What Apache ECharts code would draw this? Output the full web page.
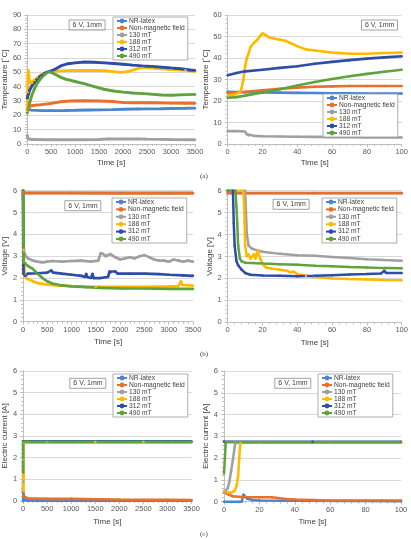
<!DOCTYPE html>
<html><head><meta charset="utf-8">
<script src="https://cdn.jsdelivr.net/npm/echarts@6/dist/echarts.min.js"></script>
<style>html,body{margin:0;padding:0;background:#fff}#c{width:411px;height:539px}</style>
</head><body><div id="c"></div>
<script>
// ---- series names & tick settings ----
const seriesNames = ['NR-latex', 'Non-magnetic field', '130 mT', '188 mT', '312 mT', '490 mT'];
const xTitle = 'Time [s]';
const yTitles = ['Temperature [˚C]', 'Temperature [˚C]', 'Voltage [V]', 'Voltage [V]', 'Electric current [A]', 'Electric current [A]'];
const boxLabel = '6 V, 1mm';
const captions = ['(a)', '(b)', '(c)'];
const xMaxLong = 3500, xStepLong = 500, xMaxShort = 100, xStepShort = 20;
const tempLongMax = 90, tempShortMax = 60, tempStep = 10, elecMax = 6, elecStep = 1;

// ---- (a) temperature, 0-3500 s ----
const tL_nr = [[0,24],[100,23.6],[300,23.3],[500,23.3],[800,23.4],[1000,23.5],[1300,23.7],[1500,23.8],[1800,24],[2000,24.2],[2300,24.4],[2500,24.5],[2800,24.6],[3000,24.8],[3300,24.9],[3500,25]];
const tL_nm = [[0,23.5],[30,25],[60,26.5],[150,27],[300,27.5],[500,28.3],[700,29.5],[900,30],[1200,30.2],[1500,30],[1800,29.6],[2000,29],[2300,28.8],[2600,28.8],[3000,28.5],[3300,28.4],[3500,28.4]];
const tL_130 = [[0,6],[8,5.9],[12,4],[40,3.4],[100,3.1],[500,3],[1000,3],[1500,3.1],[1700,3.6],[2000,3.5],[2300,3.6],[2500,3.4],[2800,3.2],[3000,3.1],[3500,3]];
const tL_188 = [[0,22.5],[8,24],[10,36],[14,46],[20,51.5],[30,48.5],[45,44],[60,42.5],[100,42.5],[150,44.5],[200,46],[300,48.5],[400,50],[500,50.5],[700,51],[1000,51.3],[1300,51.3],[1600,51.2],[1800,50.5],[1950,50],[2100,50.5],[2250,52],[2400,53.5],[2600,53],[3000,52],[3300,51.5],[3500,50.5]];
const tL_312 = [[0,32],[20,34.5],[50,37.5],[100,40.8],[200,45],[300,48],[400,50],[500,51],[600,52.5],[700,54.5],[850,56],[1000,56.6],[1200,57.2],[1400,57],[1600,56.6],[1800,56.2],[2000,55.6],[2200,55],[2400,54.5],[2600,54.1],[2800,53.6],[3000,53],[3200,52.5],[3400,51.6],[3500,51.3]];
const tL_490 = [[0,21.5],[20,24],[50,28.5],[100,34.5],[150,38.5],[200,42],[300,46.5],[400,49.5],[450,50.3],[500,50],[600,48.3],[700,46.5],[800,45.2],[1000,43.6],[1200,42],[1400,40],[1600,38.2],[1800,37],[2000,36.2],[2200,35.6],[2500,35],[2800,34.2],[3000,34],[3200,34.3],[3500,34.6]];

// ---- (a) temperature, 0-100 s ----
const tS_nr = [[0,24.3],[10,24.1],[20,24],[30,23.9],[40,23.8],[50,23.7],[60,23.6],[70,23.6],[80,23.5],[90,23.5],[100,23.5]];
const tS_nm = [[0,23.7],[10,24.3],[20,25],[30,25.7],[40,26.2],[50,26.6],[60,26.8],[70,27],[80,27],[90,27],[100,27]];
const tS_130 = [[0,6],[4,6],[8,5.9],[10,5.7],[11,4.5],[12,4],[15,3.8],[20,3.6],[30,3.5],[40,3.4],[50,3.3],[60,3.2],[70,3.2],[80,3.1],[90,3.1],[100,3]];
const tS_188 = [[0,22.5],[4,23],[7,24],[8,26],[9,30],[10,36],[11,40],[12,42],[13,45],[15,47],[17,48.5],[19,50.5],[20,51.5],[21,51.2],[22,50.5],[24,49.5],[27,49],[30,48.5],[33,48],[36,47],[40,45.5],[45,44],[50,43.5],[55,43],[60,42.5],[70,42],[80,42],[90,42.3],[100,42.5]];
const tS_312 = [[0,32],[5,33],[10,33.8],[20,34.5],[30,35.4],[40,36.2],[50,37.3],[60,38.2],[70,39],[80,39.7],[90,40.3],[100,40.8]];
const tS_490 = [[0,21.5],[5,21.8],[10,22.5],[20,24],[30,25.5],[40,27.2],[50,28.8],[60,30.2],[70,31.5],[80,32.6],[90,33.6],[100,34.5]];

// ---- (b) voltage, 0-3500 s ----
const vL_nr = [[0,5.9],[1000,5.9],[2000,5.9],[3000,5.9],[3500,5.9]];
const vL_nm = [[0,5.89],[1000,5.89],[2000,5.88],[3000,5.88],[3500,5.88]];
const vL_130 = [[0,6],[9,6],[12,3.5],[20,3.2],[60,3],[100,2.9],[200,2.8],[300,2.75],[400,2.72],[500,2.75],[600,2.78],[800,2.75],[1000,2.78],[1200,2.8],[1400,2.75],[1550,2.8],[1600,3.15],[1650,3.1],[1700,3],[1800,3.1],[1900,2.95],[2000,2.85],[2100,2.9],[2200,2.95],[2300,2.9],[2400,3],[2500,3.05],[2600,2.95],[2700,2.85],[2800,2.8],[2900,2.8],[3000,2.75],[3100,2.85],[3200,2.8],[3300,2.75],[3400,2.8],[3500,2.75]];
const vL_188 = [[0,6],[8,6],[10,3.3],[20,2.7],[40,2.15],[60,2],[100,1.95],[200,1.85],[300,1.77],[500,1.7],[700,1.66],[1000,1.63],[1500,1.6],[2000,1.6],[2500,1.6],[3000,1.62],[3200,1.63],[3250,1.85],[3280,1.68],[3500,1.65]];
const vL_312 = [[0,6],[3,6],[4,3.5],[6,2.6],[10,2.2],[40,2.1],[100,2.2],[300,2.22],[500,2.25],[580,2.35],[620,2.25],[800,2.2],[1000,2.15],[1200,2.1],[1280,2.05],[1300,2.2],[1320,2.05],[1400,2],[1430,2.2],[1450,2],[1600,2],[1750,2.05],[1780,2.3],[1800,2.25],[1900,2.3],[1950,2.2],[2200,2.2],[2500,2.2],[2800,2.18],[3000,2.15],[3300,2.12],[3500,2.1]];
const vL_490 = [[0,6],[4,6],[5,5.3],[6,3.5],[7,2.9],[10,2.72],[50,2.68],[100,2.55],[200,2.42],[300,2.2],[400,2],[500,1.85],[600,1.75],[700,1.7],[800,1.66],[1000,1.62],[1300,1.58],[1600,1.55],[2000,1.53],[2500,1.52],[3000,1.5],[3500,1.5]];

// ---- (b) voltage, 0-100 s ----
const vS_nr = [[0,5.9],[50,5.9],[100,5.9]];
const vS_nm = [[0,5.88],[50,5.88],[100,5.88]];
const vS_130 = [[0,6],[10,6],[10.5,5],[11,4],[12,3.5],[14,3.35],[17,3.28],[20,3.22],[30,3.12],[40,3.06],[50,3.03],[60,2.98],[70,2.93],[80,2.88],[90,2.84],[100,2.81]];
const vS_188 = [[0,6],[9,6],[9.5,5.2],[10,3.5],[11,3],[12,3.1],[13,2.9],[14,3],[15,3.1],[16,2.9],[17,3.25],[18,3.2],[19,2.85],[20,2.65],[22,2.5],[25,2.45],[30,2.4],[34,2.35],[36,2.28],[38,2.3],[40,2.2],[45,2.12],[50,2.06],[60,2],[70,1.97],[80,1.95],[90,1.93],[100,1.92]];
const vS_312 = [[0,6],[3,6],[3.5,4.5],[4,3.5],[5,2.8],[6,2.6],[8,2.4],[10,2.25],[13,2.17],[20,2.13],[30,2.12],[40,2.1],[50,2.12],[60,2.15],[70,2.18],[80,2.2],[88,2.22],[90,2.35],[91,2.25],[100,2.25]];
const vS_490 = [[0,6],[4.5,6],[5,5.3],[5.5,4.5],[6,3.5],[7,2.9],[8,2.78],[10,2.72],[20,2.68],[30,2.65],[40,2.62],[50,2.58],[60,2.55],[70,2.52],[80,2.5],[90,2.47],[100,2.46]];

// ---- (c) current, 0-3500 s ----
const iL_nr = [[0,0],[10,0],[11,0.33],[20,0.06],[100,0.02],[1000,0.02],[2000,0.02],[3000,0.02],[3500,0.02]];
const iL_nm = [[0,0.45],[10,0.22],[30,0.18],[100,0.12],[500,0.1],[1000,0.1],[1500,0.08],[2000,0.06],[2500,0.05],[3000,0.05],[3500,0.04]];
const iL_130 = [[0,0.45],[3,0.9],[5,1.9],[6.5,2.72],[500,2.72],[1500,2.72],[2500,2.72],[3500,2.72]];
const iL_188 = [[0,0.5],[6,0.5],[8,1.2],[9.2,2.7],[100,2.72],[1500,2.72],[2500,2.72],[3500,2.72]];
const iL_312 = [[0,2.75],[1000,2.75],[2000,2.75],[3000,2.75],[3500,2.75]];
const iL_490 = [[0,1.3],[1,2.74],[100,2.73],[1000,2.73],[2000,2.73],[3000,2.73],[3500,2.73]];

// ---- (c) current, 0-100 s ----
const iS_nr = [[0,0],[10,0],[11,0.33],[13,0.15],[16,0.08],[20,0.06],[40,0.04],[100,0.02]];
const iS_nm = [[0,0.45],[2,0.35],[5,0.25],[10,0.22],[20,0.2],[27,0.2],[35,0.12],[40,0.1],[50,0.08],[60,0.06],[80,0.05],[100,0.05]];
const iS_130 = [[0,0.45],[1,0.5],[2,0.6],[3,0.9],[4,1.4],[5,1.9],[6,2.5],[6.5,2.72],[20,2.72],[60,2.72],[100,2.72]];
const iS_188 = [[0,0.5],[2,0.42],[4,0.42],[6,0.5],[7,0.7],[8,1.2],[8.6,2],[9.2,2.7],[20,2.72],[60,2.72],[100,2.72]];
const iS_312 = [[0,2.75],[50,2.75],[100,2.75]];
const iS_490 = [[0,1.3],[0.5,2],[1,2.74],[20,2.73],[60,2.73],[100,2.73]];

const panelData = [
  [tL_nr, tL_nm, tL_130, tL_188, tL_312, tL_490],
  [tS_nr, tS_nm, tS_130, tS_188, tS_312, tS_490],
  [vL_nr, vL_nm, vL_130, vL_188, vL_312, vL_490],
  [vS_nr, vS_nm, vS_130, vS_188, vS_312, vS_490],
  [iL_nr, iL_nm, iL_130, iL_188, iL_312, iL_490],
  [iS_nr, iS_nm, iS_130, iS_188, iS_312, iS_490]
];

// ---- layout / style ----
const colors = ['#4A86CF', '#E8702A', '#A0A0A0', '#FFBA00', '#2E4DA6', '#5FA33E'];
const panels = [
  {grid:{left:23, top:15, width:172, height:129}, xMax:xMaxLong, xStep:xStepLong, yMax:tempLongMax, yStep:tempStep, yGap:14, xGap:15, leg:[113,17], box:[69.3,20], lw:2.9},
  {grid:{left:227.7, top:15, width:174, height:129}, xMax:xMaxShort, xStep:xStepShort, yMax:tempShortMax, yStep:tempStep, yGap:13.5, xGap:15, leg:[323,94], box:[361.7,20], lw:2.6},
  {grid:{left:20, top:190.7, width:173, height:131}, xMax:xMaxLong, xStep:xStepLong, yMax:elecMax, yStep:elecStep, yGap:11, xGap:16, leg:[112,198], box:[65,200.7], lw:2.7},
  {grid:{left:227.7, top:190.7, width:174, height:131.6}, xMax:xMaxShort, xStep:xStepShort, yMax:elecMax, yStep:elecStep, yGap:12, xGap:16, leg:[322,198], box:[273.3,199.3], lw:2.5},
  {grid:{left:19, top:371, width:172.5, height:130}, xMax:xMaxLong, xStep:xStepLong, yMax:elecMax, yStep:elecStep, yGap:10, xGap:17, leg:[113,374], box:[70,378.3], lw:2.7},
  {grid:{left:224, top:371, width:177, height:130.7}, xMax:xMaxShort, xStep:xStepShort, yMax:elecMax, yStep:elecStep, yGap:11, xGap:16.5, leg:[318,374], box:[275,378.3], lw:2.5}
];

const FONT = 'Liberation Sans';
const axisGray = '#BFBFBF';
const option = {
  animation: false,
  backgroundColor: '#fff',
  textStyle: {fontFamily: FONT},
  grid: [], xAxis: [], yAxis: [], series: [], legend: [], title: [],
  graphic: []
};
const plain = v => String(v);

panels.forEach((p, i) => {
  option.grid.push(Object.assign({containLabel:false}, p.grid));
  option.xAxis.push({
    type:'value', gridIndex:i, min:0, max:p.xMax, interval:p.xStep,
    name:xTitle, nameLocation:'middle', nameGap:p.xGap,
    nameTextStyle:{fontSize:8, color:'#404040', fontFamily:FONT},
    axisLine:{show:true, onZero:false, lineStyle:{color:axisGray, width:1}},
    axisTick:{show:true, length:3, lineStyle:{color:axisGray}},
    minorTick:{show:true, splitNumber:5, length:2, lineStyle:{color:axisGray}},
    splitLine:{show:false},
    axisLabel:{fontSize:7.5, color:'#595959', margin:4, fontFamily:FONT, formatter:plain}
  });
  option.yAxis.push({
    type:'value', gridIndex:i, min:0, max:p.yMax, interval:p.yStep,
    name:yTitles[i], nameLocation:'middle', nameGap:p.yGap,
    nameTextStyle:{fontSize:8, color:'#404040', fontFamily:FONT},
    axisLine:{show:true, lineStyle:{color:axisGray, width:1}},
    axisTick:{show:true, length:3, lineStyle:{color:axisGray}},
    minorTick:{show:true, splitNumber:5, length:2, lineStyle:{color:axisGray}},
    splitLine:{show:true, lineStyle:{color:'#D9D9D9', width:1}},
    axisLabel:{fontSize:7.5, color:'#595959', margin:6, fontFamily:FONT, formatter:plain}
  });
  panelData[i].forEach((d, k) => {
    option.series.push({
      type:'line', name:seriesNames[k], xAxisIndex:i, yAxisIndex:i, data:d,
      symbol:'circle', symbolSize:2.5, showSymbol:true, showAllSymbol:true,
      lineStyle:{width:p.lw, color:colors[k]}, itemStyle:{color:colors[k]},
      silent:true, clip:true
    });
  });
  option.legend.push({
    data: seriesNames, orient:'vertical', left:p.leg[0], top:p.leg[1],
    itemGap: (i === 2 || i === 3) ? 0.4 : 0, itemWidth:10, itemHeight:6,
    padding:[0.5, 3, 0.5, 3], borderColor:'#999', borderWidth:0.8, backgroundColor:'#fff',
    textStyle:{fontSize:6.7, color:'#404040', lineHeight:7, padding:[0,0,0,-3], fontFamily:FONT},
    selectedMode:false
  });
  option.title.push({
    text: boxLabel, left:p.box[0], top:p.box[1],
    padding:[1.5, 3.3, 1.5, 3.3], borderColor:'#8C8C8C', borderWidth:0.8,
    textStyle:{fontSize:7, fontWeight:'normal', color:'#404040', lineHeight:7, fontFamily:FONT}
  });
});

const capY = [177, 355, 535];
captions.forEach((c, j) => {
  option.graphic.push({type:'text', left:200, top:capY[j]-4,
    style:{text:c, fontSize:7, fontFamily:'Liberation Serif', fill:'#404040'}});
});

const chart = echarts.init(document.getElementById('c'), null, {renderer:'canvas'});
chart.setOption(option);
</script></body></html>
